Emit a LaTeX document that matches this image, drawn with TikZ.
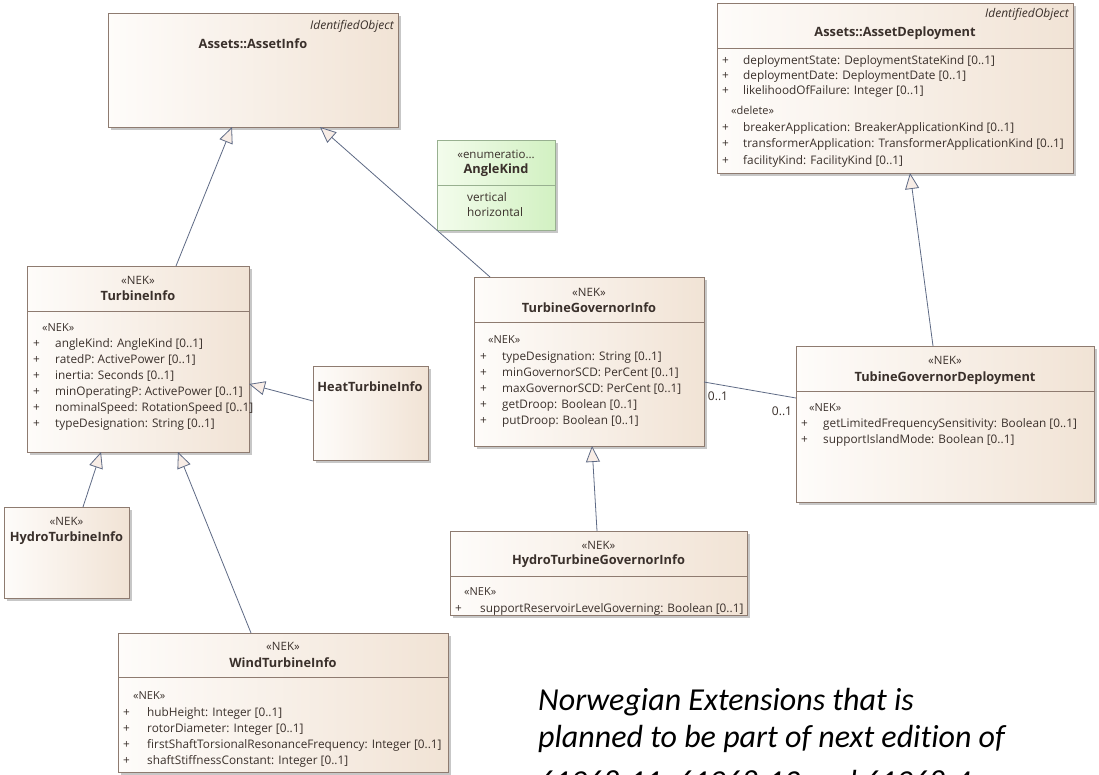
\documentclass[tikz,border=0pt]{standalone}
\usepackage{fontspec}
\setmainfont{Open Sans}
\newfontfamily\notefont[Ligatures=NoCommon]{Carlito}
\usetikzlibrary{arrows.meta,shadows}

\definecolor{boxL}{HTML}{FEFCFA}
\definecolor{boxR}{HTML}{F1E3D5}
\definecolor{boxEdge}{HTML}{8E7B70}
\definecolor{encL}{HTML}{F3FCEC}
\definecolor{encR}{HTML}{D2F1C2}
\definecolor{encEdge}{HTML}{98B090}
\definecolor{link}{HTML}{5E6A85}
\definecolor{headFill}{HTML}{F8EDE6}
\definecolor{ink}{HTML}{3A302B}

\tikzset{
  classbox/.style={draw=boxEdge, line width=0.9pt, left color=boxL, right color=boxR,
    drop shadow={shadow xshift=2.5pt, shadow yshift=-2.5pt, fill=black!40, opacity=0.55},
    anchor=north west, inner sep=0pt, outer sep=0pt},
  enumbox/.style={classbox, draw=encEdge, left color=encL, right color=encR},
  sepline/.style={draw=boxEdge, line width=0.8pt},
  title/.style={font=\bfseries\fontsize{12.8}{14}\selectfont, text=ink, anchor=base, inner sep=0pt},
  stereo/.style={font=\fontsize{11.5}{13}\selectfont, text=ink, anchor=base, inner sep=0pt},
  parent/.style={font=\itshape\fontsize{12}{13}\selectfont, text=ink, anchor=base east, inner sep=0pt},
  attr/.style={font=\fontsize{11.8}{13}\selectfont, text=ink, anchor=base west, inner sep=0pt},
  gen/.style={draw=link, line width=0.8pt, -{Triangle[fill=headFill, length=16pt, width=14pt]}},
  assoc/.style={draw=link, line width=0.8pt},
  mult/.style={font=\fontsize{12}{13}\selectfont, text=ink, inner sep=0pt},
  note/.style={font=\notefont\itshape\fontsize{32}{37}\selectfont, text=black, anchor=base west, inner sep=0pt},
}

\begin{document}
\begin{tikzpicture}[x=1pt, y=-1pt]
\clip (0,0) rectangle (1099,774);
\fill[white] (0,0) rectangle (1099,774);

% ---------- Assets::AssetInfo
\node[classbox, minimum width=290pt, minimum height=114pt] (ai) at (108,13) {};
\node[parent] (aiP) at (394,29) {IdentifiedObject};
\node[title] (aiT) at (253,48) {Assets::AssetInfo};

% ---------- Assets::AssetDeployment
\node[classbox, minimum width=356pt, minimum height=170pt] (ad) at (717,3) {};
\node[parent] (adP) at (1069,17) {IdentifiedObject};
\node[title] (adT) at (895,36) {Assets::AssetDeployment};
\draw[sepline] (717,48) -- (1073,48);
\foreach \y/\t [count=\i] in {64/{deploymentState: DeploymentStateKind [0..1]},
                   79/{deploymentDate: DeploymentDate [0..1]},
                   94/{likelihoodOfFailure: Integer [0..1]},
                   131/{breakerApplication: BreakerApplicationKind [0..1]},
                   147/{transformerApplication: TransformerApplicationKind [0..1]},
                   164/{facilityKind: FacilityKind [0..1]}}{
  \node[attr] (adp\i) at (722,\y) {+};
  \node[attr] (ada\i) at (743,\y) {\t};
}
\node[attr, font=\fontsize{11}{12}\selectfont] (adS) at (731,114) {«delete»};

% ---------- AngleKind
\node[enumbox, minimum width=118pt, minimum height=90pt] (ak) at (437,140) {};
\draw[sepline, draw=encEdge] (437,185) -- (555,185);
\node[stereo] (akS) at (496,158.5) {«enumeratio...};
\node[title] (akT) at (496,173) {AngleKind};
\node[attr] (ak1) at (467,201) {vertical};
\node[attr] (ak2) at (467,216) {horizontal};

% ---------- TurbineInfo
\node[classbox, minimum width=222pt, minimum height=186pt] (ti) at (27,266) {};
\draw[sepline] (27,311) -- (249,311);
\node[stereo] (tiS) at (138,284.5) {«NEK»};
\node[title] (tiT) at (138,300) {TurbineInfo};
\node[attr, font=\fontsize{11}{12}\selectfont] (tiA) at (42,331) {«NEK»};
\foreach \y/\t [count=\i] in {347/{angleKind: AngleKind [0..1]},
                   363/{ratedP: ActivePower [0..1]},
                   379/{inertia: Seconds [0..1]},
                   395/{minOperatingP: ActivePower [0..1]},
                   411/{nominalSpeed: RotationSpeed [0..1]},
                   427/{typeDesignation: String [0..1]}}{
  \node[attr] (tip\i) at (33,\y) {+};
  \node[attr] (tia\i) at (55,\y) {\t};
}

% ---------- HeatTurbineInfo
\node[classbox, minimum width=115pt, minimum height=94pt] (hti) at (313,366) {};
\node[title] (htiT) at (370,391) {HeatTurbineInfo};

% ---------- HydroTurbineInfo
\node[classbox, minimum width=125pt, minimum height=91pt] (hyi) at (4,507) {};
\node[stereo] (hyiS) at (66.5,525.5) {«NEK»};
\node[title] (hyiT) at (66.5,541) {HydroTurbineInfo};

% ---------- WindTurbineInfo
\node[classbox, minimum width=330pt, minimum height=139pt] (wti) at (118,633) {};
\draw[sepline] (118,677) -- (448,677);
\node[stereo] (wtiS) at (283,650.5) {«NEK»};
\node[title] (wtiT) at (283,667) {WindTurbineInfo};
\node[attr, font=\fontsize{11}{12}\selectfont] (wtiA) at (133,699.5) {«NEK»};
\foreach \y/\t [count=\i] in {716/{hubHeight: Integer [0..1]},
                   732/{rotorDiameter: Integer [0..1]},
                   748/{firstShaftTorsionalResonanceFrequency: Integer [0..1]},
                   764/{shaftStiffnessConstant: Integer [0..1]}}{
  \node[attr] (wtip\i) at (123,\y) {+};
  \node[attr] (wtia\i) at (147,\y) {\t};
}

% ---------- TurbineGovernorInfo
\node[classbox, minimum width=230pt, minimum height=169pt] (tgi) at (474,277) {};
\draw[sepline] (474,322) -- (704,322);
\node[stereo] (tgiS) at (589,296.5) {«NEK»};
\node[title] (tgiT) at (589,312) {TurbineGovernorInfo};
\node[attr, font=\fontsize{11}{12}\selectfont] (tgiA) at (488,343.5) {«NEK»};
\foreach \y/\t [count=\i] in {360/{typeDesignation: String [0..1]},
                   376/{minGovernorSCD: PerCent [0..1]},
                   392/{maxGovernorSCD: PerCent [0..1]},
                   408/{getDroop: Boolean [0..1]},
                   424/{putDroop: Boolean [0..1]}}{
  \node[attr] (tgip\i) at (480,\y) {+};
  \node[attr] (tgia\i) at (502,\y) {\t};
}

% ---------- TubineGovernorDeployment
\node[classbox, minimum width=298pt, minimum height=156pt] (tgd) at (796,346) {};
\draw[sepline] (796,391) -- (1094,391);
\node[stereo] (tgdS) at (945,364.5) {«NEK»};
\node[title] (tgdT) at (945,381) {TubineGovernorDeployment};
\node[attr, font=\fontsize{11}{12}\selectfont] (tgdA) at (809,411.5) {«NEK»};
\foreach \y/\t [count=\i] in {427/{getLimitedFrequencySensitivity: Boolean [0..1]},
                   443/{supportIslandMode: Boolean [0..1]}}{
  \node[attr] (tgdp\i) at (801,\y) {+};
  \node[attr] (tgda\i) at (823,\y) {\t};
}

% ---------- HydroTurbineGovernorInfo
\node[classbox, minimum width=297pt, minimum height=84pt] (htg) at (450,531) {};
\draw[sepline] (450,576) -- (747,576);
\node[stereo] (htgS) at (598.5,549.5) {«NEK»};
\node[title] (htgT) at (598.5,564) {HydroTurbineGovernorInfo};
\node[attr, font=\fontsize{11}{12}\selectfont] (htgA) at (464,595.5) {«NEK»};
\node[attr] (htgp1) at (455,612) {+};
\node[attr] (htga1) at (480,612) {supportReservoirLevelGoverning: Boolean [0..1]};

% ---------- generalisations
\draw[gen] ([xshift=149pt]ti.north west) -- ([xshift=124pt]ai.south west);
\draw[gen] ([xshift=16pt]tgi.north west) -- ([xshift=212pt]ai.south west);
\draw[gen] ([yshift=-35pt]hti.north west) -- ([yshift=-118pt]ti.north east);
\draw[gen] ([xshift=79pt]hyi.north west) -- ([xshift=74pt]ti.south west);
\draw[gen] ([xshift=133pt]wti.north west) -- ([xshift=151pt]ti.south west);
\draw[gen] ([xshift=147pt]htg.north west) -- ([xshift=118pt]tgi.south west);
\draw[gen] ([xshift=137pt]tgd.north west) -- ([xshift=193pt]ad.south west);

% ---------- association
\draw[assoc] ([yshift=-105pt]tgi.north east) -- ([yshift=-52pt]tgd.north west);
\node[mult] (m1) at (718,396) {0..1};
\node[mult] (m2) at (782,411) {0..1};

% ---------- note
\node[note] (n1) at (538,710) {Norwegian Extensions that is};
\node[note] (n2) at (538,747) {planned to be part of next edition of};
\node[note] (n3) at (538,792) {61968-11, 61968-13 and 61968-4};
\end{tikzpicture}
\end{document}
